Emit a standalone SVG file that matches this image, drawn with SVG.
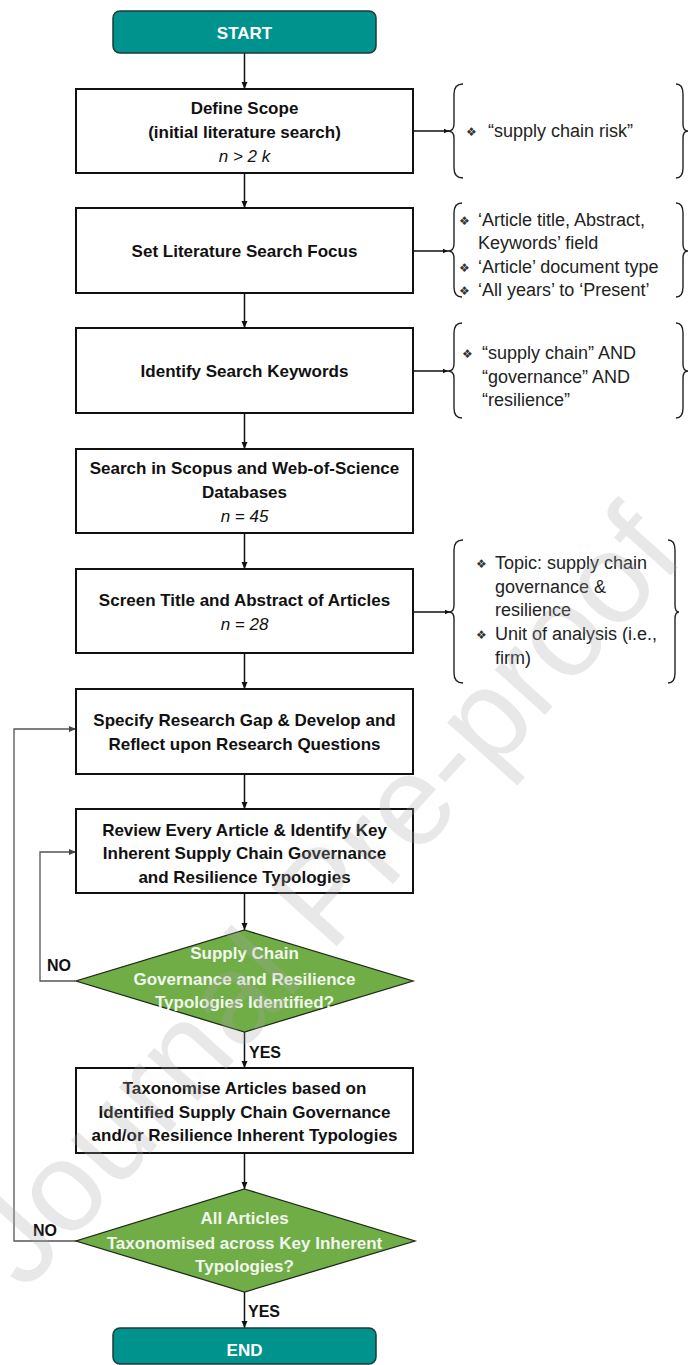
<svg xmlns="http://www.w3.org/2000/svg" width="688" height="1365" viewBox="0 0 688 1365">
<style>
.box{fill:#fff;stroke:#111;stroke-width:2}
.term{fill:#00928c;stroke:#1c3b39;stroke-width:1.5}
.dec{fill:#70ad47;stroke:#1f2a18;stroke-width:1.3}
.bt{font-family:"Liberation Sans",Arial,sans-serif;font-weight:bold;font-size:17px;fill:#111;text-anchor:middle}
.it{font-family:"Liberation Sans",Arial,sans-serif;font-style:italic;font-size:17px;fill:#111;text-anchor:middle}
.wt{font-family:"Liberation Sans",Arial,sans-serif;font-weight:bold;font-size:17px;fill:#fff;text-anchor:middle}
.dt{font-family:"Liberation Sans",Arial,sans-serif;font-weight:bold;font-size:17px;fill:#f1f7ec;text-anchor:middle}
.lbl{font-family:"Liberation Sans",Arial,sans-serif;font-weight:bold;font-size:16px;fill:#111}
.nt{font-family:"Liberation Sans",Arial,sans-serif;font-size:18px;fill:#222}
.bul{font-family:"DejaVu Sans",sans-serif;font-size:12px;fill:#333}
.brace{fill:none;stroke:#222;stroke-width:1.4}
.arr{fill:none;stroke:#111;stroke-width:1.5}
.loop{fill:none;stroke:#555;stroke-width:1.3}
.wm{font-family:"Liberation Sans",Arial,sans-serif;font-size:128px;fill:#a8a8a8;opacity:0.25;text-anchor:middle}
</style>
<defs>
<marker id="ah" markerUnits="userSpaceOnUse" markerWidth="8" markerHeight="8" refX="7" refY="4" orient="auto"><path d="M0,1 L7,4 L0,7 z" fill="#111"/></marker>
<marker id="ag" markerUnits="userSpaceOnUse" markerWidth="8" markerHeight="8" refX="7" refY="4" orient="auto"><path d="M0,1 L7,4 L0,7 z" fill="#444"/></marker>
<marker id="ad" markerUnits="userSpaceOnUse" markerWidth="6" markerHeight="6" refX="5" refY="3" orient="auto"><path d="M0,0.8 L5,3 L0,5.2 z" fill="#111"/></marker>
</defs>

<g id="connectors">
<line class="arr" x1="244.5" y1="53" x2="244.5" y2="89" marker-end="url(#ah)"/>
<line class="arr" x1="244.5" y1="173" x2="244.5" y2="208" marker-end="url(#ah)"/>
<line class="arr" x1="244.5" y1="293" x2="244.5" y2="328" marker-end="url(#ah)"/>
<line class="arr" x1="244.5" y1="413" x2="244.5" y2="449" marker-end="url(#ah)"/>
<line class="arr" x1="244.5" y1="533" x2="244.5" y2="569" marker-end="url(#ah)"/>
<line class="arr" x1="244.5" y1="653" x2="244.5" y2="689" marker-end="url(#ah)"/>
<line class="arr" x1="244.5" y1="774" x2="244.5" y2="809" marker-end="url(#ah)"/>
<line class="arr" x1="244.5" y1="893" x2="244.5" y2="930" marker-end="url(#ah)"/>
<line class="arr" x1="244.5" y1="1032" x2="244.5" y2="1068" marker-end="url(#ah)"/>
<line class="arr" x1="244.5" y1="1153" x2="244.5" y2="1189" marker-end="url(#ah)"/>
<line class="arr" x1="244.5" y1="1292" x2="244.5" y2="1328" marker-end="url(#ah)"/>
<line class="arr" x1="413" y1="131" x2="449" y2="131" marker-end="url(#ad)"/>
<line class="arr" x1="413" y1="251" x2="448" y2="251" marker-end="url(#ad)"/>
<line class="arr" x1="413" y1="371" x2="448" y2="371" marker-end="url(#ad)"/>
<line class="arr" x1="413" y1="612" x2="450" y2="612" marker-end="url(#ad)"/>
<path class="loop" d="M75,981 H40 V852 H76" marker-end="url(#ag)"/>
<path class="loop" d="M76,1241 H14 V729 H76" marker-end="url(#ag)"/>
<text class="lbl" x="249" y="1058">YES</text>
<text class="lbl" x="248" y="1317">YES</text>
<text class="lbl" x="47" y="971">NO</text>
<text class="lbl" x="33" y="1236">NO</text>
</g>

<g id="start">
<rect class="term" x="113" y="11" width="263" height="42" rx="7"/>
<text class="wt" x="244.5" y="39">START</text>
</g>

<g id="define-scope">
<rect class="box" x="76" y="89" width="337" height="84"/>
<text class="bt" x="244.5" y="114">Define Scope</text>
<text class="bt" x="244.5" y="138">(initial literature search)</text>
<text class="it" x="244.5" y="162">n &gt; 2 k</text>
</g>
<g id="note-scope">
<path class="brace" d="M463,84 Q454,84 454,94 L454,124 Q454,131 448,131 Q454,131 454,138 L454,168 Q454,178 463,178"/>
<path class="brace" d="M676,84 Q683,84 683,94 L683,124 Q683,131 688,131 Q683,131 683,138 L683,168 Q683,178 676,178"/>
<text class="bul" x="466" y="136">❖</text>
<text class="nt" x="488" y="137">“supply chain risk”</text>
</g>

<g id="set-focus">
<rect class="box" x="76" y="208" width="337" height="85"/>
<text class="bt" x="244.5" y="257">Set Literature Search Focus</text>
</g>
<g id="note-focus">
<path class="brace" d="M462,203 Q454,203 454,213 L454,244 Q454,251 448,251 Q454,251 454,258 L454,287 Q454,297 462,297"/>
<path class="brace" d="M676,203 Q683,203 683,213 L683,244 Q683,251 688,251 Q683,251 683,258 L683,287 Q683,297 676,297"/>
<text class="bul" x="459" y="225">❖</text>
<text class="nt" x="478" y="226">‘Article title, Abstract,</text>
<text class="nt" x="478" y="249">Keywords’ field</text>
<text class="bul" x="459" y="272">❖</text>
<text class="nt" x="478" y="273">‘Article’ document type</text>
<text class="bul" x="459" y="295">❖</text>
<text class="nt" x="478" y="296">‘All years’ to ‘Present’</text>
</g>

<g id="identify-keywords">
<rect class="box" x="76" y="328" width="337" height="85"/>
<text class="bt" x="244.5" y="377">Identify Search Keywords</text>
</g>
<g id="note-keywords">
<path class="brace" d="M462,323 Q454,323 454,333 L454,364 Q454,371 448,371 Q454,371 454,378 L454,408 Q454,418 462,418"/>
<path class="brace" d="M676,323 Q683,323 683,333 L683,364 Q683,371 688,371 Q683,371 683,378 L683,408 Q683,418 676,418"/>
<text class="bul" x="462" y="358">❖</text>
<text class="nt" x="482" y="359">“supply chain” AND</text>
<text class="nt" x="482" y="383">“governance” AND</text>
<text class="nt" x="482" y="406">“resilience”</text>
</g>

<g id="search-db">
<rect class="box" x="76" y="449" width="337" height="84"/>
<text class="bt" x="244.5" y="474">Search in Scopus and Web-of-Science</text>
<text class="bt" x="244.5" y="498">Databases</text>
<text class="it" x="244.5" y="522">n = 45</text>
</g>

<g id="screen">
<rect class="box" x="76" y="569" width="337" height="84"/>
<text class="bt" x="244.5" y="606">Screen Title and Abstract of Articles</text>
<text class="it" x="244.5" y="630">n = 28</text>
</g>
<g id="note-screen">
<path class="brace" d="M463,540 Q454,540 454,550 L454,605 Q454,612 449,612 Q454,612 454,619 L454,673 Q454,683 463,683"/>
<path class="brace" d="M668,540 Q675,540 675,550 L675,605 Q675,612 679,612 Q675,612 675,619 L675,673 Q675,683 668,683"/>
<text class="bul" x="476" y="568">❖</text>
<text class="nt" x="495" y="569">Topic: supply chain</text>
<text class="nt" x="495" y="593">governance &amp;</text>
<text class="nt" x="495" y="616">resilience</text>
<text class="bul" x="476" y="639">❖</text>
<text class="nt" x="495" y="640">Unit of analysis (i.e.,</text>
<text class="nt" x="495" y="664">firm)</text>
</g>

<g id="specify-gap">
<rect class="box" x="76" y="689" width="337" height="85"/>
<text class="bt" x="244.5" y="726">Specify Research Gap &amp; Develop and</text>
<text class="bt" x="244.5" y="750">Reflect upon Research Questions</text>
</g>

<g id="review">
<rect class="box" x="76" y="809" width="337" height="84"/>
<text class="bt" x="244.5" y="836">Review Every Article &amp; Identify Key</text>
<text class="bt" x="244.5" y="859">Inherent Supply Chain Governance</text>
<text class="bt" x="244.5" y="883">and Resilience Typologies</text>
</g>

<g id="decision-identified">
<polygon class="dec" points="244.5,930 413,981 244.5,1032 76,981"/>
<text class="dt" x="244.5" y="959">Supply Chain</text>
<text class="dt" x="244.5" y="985">Governance and Resilience</text>
<text class="dt" x="244.5" y="1008">Typologies Identified?</text>
</g>

<g id="taxonomise">
<rect class="box" x="76" y="1068" width="337" height="85"/>
<text class="bt" x="244.5" y="1094">Taxonomise Articles based on</text>
<text class="bt" x="244.5" y="1118">Identified Supply Chain Governance</text>
<text class="bt" x="244.5" y="1141">and/or Resilience Inherent Typologies</text>
</g>

<g id="decision-all">
<polygon class="dec" points="244.5,1189 415,1241 244.5,1292 76,1241"/>
<text class="dt" x="244.5" y="1224">All Articles</text>
<text class="dt" x="244.5" y="1249">Taxonomised across Key Inherent</text>
<text class="dt" x="244.5" y="1272">Typologies?</text>
</g>

<g id="end">
<rect class="term" x="113" y="1328" width="263" height="36" rx="7"/>
<text class="wt" x="244.5" y="1356">END</text>
</g>

<g id="watermark">
<text class="wm" x="356" y="925" transform="rotate(-48 356 925)">Journal Pre-proof</text>
</g>
</svg>
